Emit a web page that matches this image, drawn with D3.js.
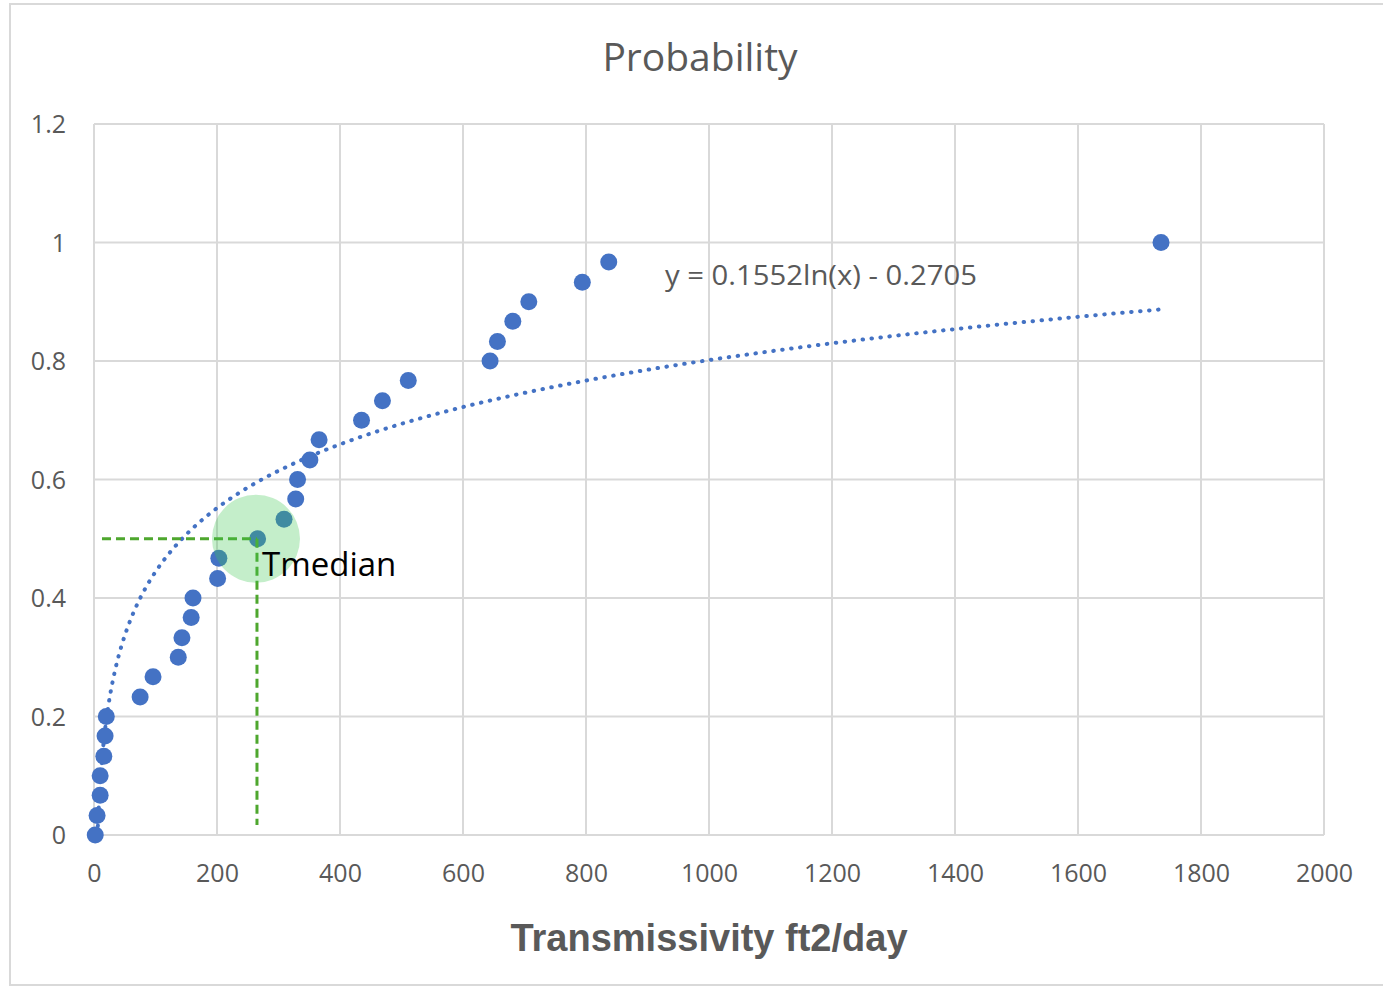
<!DOCTYPE html>
<html>
<head>
<meta charset="utf-8">
<script src="https://cdn.jsdelivr.net/npm/d3@7"></script>
<style>
  body { margin: 0; background: #fff; }
  svg { display: block; }
</style>
</head>
<body>
<div id="chart"></div>
<script>
// Probability vs transmissivity, with log trend and median marker

var transmissivity = [2, 5, 10, 10, 16, 18, 20, 75, 96, 137, 143, 158, 161, 201, 203,
                      266, 309, 328, 331, 351, 366, 435, 469, 511, 644, 656, 681, 707, 794, 837, 1735];
var probability = [0, 0.033, 0.067, 0.1, 0.133, 0.167, 0.2, 0.233, 0.267, 0.3, 0.333, 0.367, 0.4, 0.433, 0.467,
                   0.5, 0.533, 0.567, 0.6, 0.633, 0.667, 0.7, 0.733, 0.767, 0.8, 0.833, 0.867, 0.9, 0.933, 0.967, 1];
var xTicks = [0, 200, 400, 600, 800, 1000, 1200, 1400, 1600, 1800, 2000];
var yTicks = [0, 0.2, 0.4, 0.6, 0.8, 1, 1.2];
var trendA = 0.1552, trendB = -0.2705;
var tMedian = 265, pMedian = 0.5;
var medianLineX = [13, 265];      // horizontal guide, x from..to at p = 0.5
var medianLineY = [0.5, 0.017];   // vertical guide, p from..to at T = 265

var width = 1383, height = 987;
var plotL = 94, plotR = 1324, plotT = 124, plotB = 835;
var blue = "#4472C4", grey = "#595959", grid = "#D9D9D9", green = "#4EA72E";

var svg = d3.select("#chart").append("svg")
    .attr("width", width)
    .attr("height", height);

svg.append("rect")
    .attr("x", 10).attr("y", 4)
    .attr("width", width + 20).attr("height", 981)
    .attr("fill", "#fff")
    .attr("stroke", grid)
    .attr("stroke-width", 2);

var x = d3.scaleLinear().domain([0, 2000]).range([plotL, plotR]);
var y = d3.scaleLinear().domain([0, 1.2]).range([plotB, plotT]);

// grid
svg.append("g").selectAll("line").data(xTicks).enter().append("line")
    .attr("x1", function(d){return x(d)}).attr("x2", function(d){return x(d)})
    .attr("y1", plotT).attr("y2", plotB)
    .attr("stroke", grid).attr("stroke-width", 2);
svg.append("g").selectAll("line").data(yTicks).enter().append("line")
    .attr("x1", plotL).attr("x2", plotR)
    .attr("y1", function(d){return y(d)}).attr("y2", function(d){return y(d)})
    .attr("stroke", grid).attr("stroke-width", 2);

// axes labels
var xAxis = svg.append("g")
    .attr("transform", "translate(0," + plotB + ")")
    .call(d3.axisBottom(x).tickValues(xTicks).tickSize(0).tickPadding(29)
          .tickFormat(function(d){return String(d)}));
var yAxis = svg.append("g")
    .attr("transform", "translate(" + plotL + ",0)")
    .call(d3.axisLeft(y).tickValues(yTicks).tickSize(0).tickPadding(28)
          .tickFormat(function(d){return String(d)}));
[xAxis, yAxis].forEach(function(a) {
    a.select(".domain").remove();
    a.selectAll("text")
	.attr("fill", grey)
	.style("font-family", "'Open Sans', sans-serif")
	.style("font-size", "25px");
});
yAxis.selectAll("text").attr("dy", "0.34em");

// title
svg.append("text")
    .attr("x", 700).attr("y", 71)
    .attr("text-anchor", "middle")
    .attr("fill", grey)
    .style("font-family", "'Open Sans', sans-serif")
    .style("font-size", "39px")
    .text("Probability");

svg.append("text")
    .attr("x", 709).attr("y", 951)
    .attr("text-anchor", "middle")
    .attr("fill", grey)
    .style("font-family", "'Liberation Sans', Arial, sans-serif")
    .style("font-weight", "bold")
    .style("font-size", "38px")
    .text("Transmissivity ft2/day");

// log trendline, clipped at p = 0
var xStart = Math.exp(-trendB / trendA);
var xEnd = d3.max(transmissivity);
var trend = d3.range(0, 401).map(function(i) {
    var t = xStart * Math.pow(xEnd / xStart, i / 400);
    return [t, trendA * Math.log(t) + trendB];
});
svg.append("path")
    .datum(trend)
    .attr("fill", "none")
    .attr("stroke", blue)
    .attr("stroke-width", 4)
    .attr("stroke-linecap", "round")
    .attr("stroke-dasharray", "0.5 8.5")
    .attr("d", d3.line().x(function(d){return x(d[0])}).y(function(d){return y(d[1])}));

svg.append("text")
    .attr("x", 665).attr("y", 285)
    .attr("fill", grey)
    .attr("textLength", 312)
    .attr("lengthAdjust", "spacingAndGlyphs")
    .style("font-family", "'Open Sans', sans-serif")
    .style("font-size", "27px")
    .text("y = 0.1552ln(x) - 0.2705");

// points
var pts = transmissivity.map(function(t, i){return {t: t, p: probability[i]}});
svg.append("g").selectAll("circle").data(pts).enter().append("circle")
    .attr("cx", function(d){return x(d.t)})
    .attr("cy", function(d){return y(d.p)})
    .attr("r", 8.5)
    .attr("fill", blue);

// median guides
svg.append("line")
    .attr("x1", x(medianLineX[0])).attr("x2", x(medianLineX[1]))
    .attr("y1", y(pMedian)).attr("y2", y(pMedian))
    .attr("stroke", green).attr("stroke-width", 3)
    .attr("stroke-dasharray", "9 5");
svg.append("line")
    .attr("x1", x(tMedian)).attr("x2", x(tMedian))
    .attr("y1", y(medianLineY[0])).attr("y2", y(medianLineY[1]))
    .attr("stroke", green).attr("stroke-width", 3)
    .attr("stroke-dasharray", "9 5");

svg.append("circle")
    .attr("cx", x(tMedian) - 1).attr("cy", y(pMedian))
    .attr("r", 44)
    .attr("fill", "rgb(60,200,80)")
    .attr("fill-opacity", 0.3);

svg.append("text")
    .attr("x", x(tMedian) + 5).attr("y", 576)
    .attr("fill", "#000")
    .style("font-family", "'Open Sans', sans-serif")
    .style("font-size", "33px")
    .text("Tmedian");
</script>
</body>
</html>
